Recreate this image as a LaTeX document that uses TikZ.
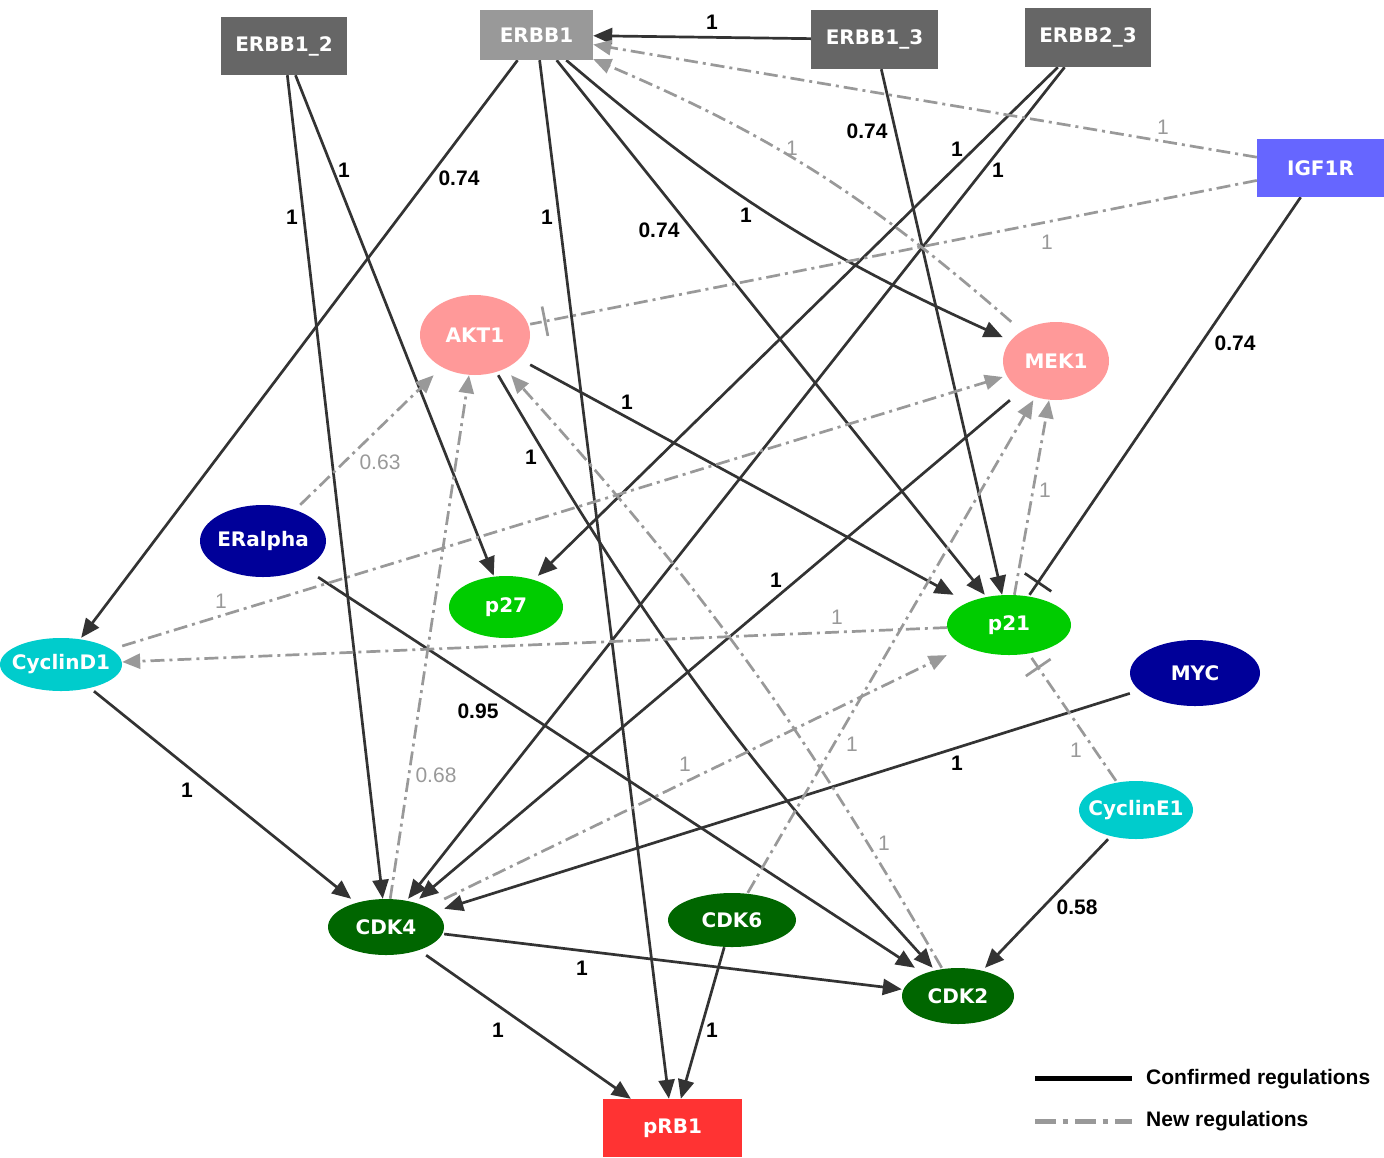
\documentclass[tikz,border=0pt]{standalone}
\usepackage{fontspec}
\setmainfont{Liberation Sans}
\newfontfamily\nodefont{DejaVu Sans}
\usetikzlibrary{arrows.meta, decorations.markings}
\pgfdeclarelayer{background}
\pgfsetlayers{background,main}
\definecolor{edgedark}{HTML}{333333}
\definecolor{edgegray}{HTML}{999999}
\definecolor{boxdark}{HTML}{666666}
\definecolor{boxlight}{HTML}{999999}
\definecolor{igfblue}{HTML}{6666FF}
\definecolor{prbred}{HTML}{FF3333}
\definecolor{aktpink}{HTML}{FF9999}
\definecolor{navyblue}{HTML}{000099}
\definecolor{brightgreen}{HTML}{00CC00}
\definecolor{cyanish}{HTML}{00CCCC}
\definecolor{darkgreen}{HTML}{006600}
\tikzset{
  nodetext/.style={text=white, font=\nodefont\bfseries\fontsize{20}{22}\selectfont},
  boxnode/.style n args={3}{rectangle, inner sep=0pt, minimum width=#1, minimum height=#2, fill=#3, nodetext},
  ellnode/.style n args={3}{rectangle, inner sep=0pt, minimum width=2*#1, minimum height=2*#2, nodetext,
    path picture={\fill[#3] (path picture bounding box.center) ellipse [x radius=#1pt, y radius=#2pt];}},
  conf/.style={draw=edgedark, line width=2.7pt, -{Triangle[length=19pt,width=16pt]}},
  newr/.style={draw=edgegray, line width=2.7pt, dash pattern=on 14pt off 5pt on 3pt off 5pt, -{Triangle[length=18pt,width=15pt]}},
  cinh/.style={draw=edgedark, line width=2.7pt,
    postaction={decorate, decoration={markings, mark=at position -15pt with {\draw[edgedark, solid, line width=2.7pt] (0pt,-16pt) -- (0pt,16pt);}}}},
  ninh/.style={draw=edgegray, line width=2.7pt, dash pattern=on 14pt off 5pt on 3pt off 5pt,
    postaction={decorate, decoration={markings, mark=at position -15pt with {\draw[edgegray, solid, line width=2.7pt] (0pt,-15pt) -- (0pt,15pt);}}}},
  lab/.style={font=\bfseries\fontsize{21}{24}\selectfont, text=black, inner sep=0pt},
  glab/.style={font=\fontsize{21}{24}\selectfont, text=edgegray, inner sep=0pt},
  legtext/.style={font=\bfseries\fontsize{21}{24}\selectfont, text=black, inner sep=0pt, anchor=west}
}
\begin{document}
\begin{tikzpicture}[x=1pt, y=-1pt]
\useasboundingbox (0,0) rectangle (1384,1157);
% nodes
\node[boxnode={126}{58}{boxdark}] (E12) at (284,46) {ERBB1\_2};
\node[boxnode={113}{50}{boxlight}] (E1) at (536.5,35) {ERBB1};
\node[boxnode={127}{59}{boxdark}] (E13) at (874.5,39.5) {ERBB1\_3};
\node[boxnode={126}{59}{boxdark}] (E23) at (1088,37.5) {ERBB2\_3};
\node[boxnode={127}{58}{igfblue}] (IGF) at (1320.5,168) {IGF1R};
\node[boxnode={139}{58}{prbred}] (PRB) at (672.5,1128) {pRB1};
\node[ellnode={55}{40}{aktpink}] (AKT) at (475,335) {AKT1};
\node[ellnode={53}{39}{aktpink}] (MEK) at (1056,361) {MEK1};
\node[ellnode={63}{36}{navyblue}] (ERA) at (263,541) {ERalpha};
\node[ellnode={61}{26.5}{cyanish}] (CD1) at (61,664.5) {CyclinD1};
\node[ellnode={57}{31}{brightgreen}] (P27) at (506,607) {p27};
\node[ellnode={62}{30}{brightgreen}] (P21) at (1009,625) {p21};
\node[ellnode={65}{33}{navyblue}] (MYC) at (1195,673) {MYC};
\node[ellnode={57}{29}{cyanish}] (CE1) at (1136,810) {CyclinE1};
\node[ellnode={56}{28}{darkgreen}] (CDK2) at (958,996) {CDK2};
\node[ellnode={58}{28}{darkgreen}] (CDK4) at (386,927) {CDK4};
\node[ellnode={64}{27}{darkgreen}] (CDK6) at (732,920) {CDK6};
% edges
\begin{pgfonlayer}{background}
% confirmed regulations
\draw[conf] (E13) -- (E1);
\draw[conf] (E12) -- (CDK4);
\draw[conf] (E12) -- (P27);
\draw[conf] (E1) -- (CD1);
\draw[conf] (E1) -- (PRB);
\draw[conf] (E1) -- (P21);
\draw[conf] (E1) to[bend right=8] (MEK);
\draw[conf] (E13) -- (P21);
\draw[conf] (E23) -- (P27);
\draw[conf] (E23) -- (CDK4);
\draw[cinh] (IGF) -- (P21);
\draw[conf] (AKT) -- (P21);
\draw[conf] (AKT) to[bend right=6] (CDK2);
\draw[conf] (MEK) -- (CDK4);
\draw[conf] (ERA) -- (CDK2);
\draw[conf] (CD1) -- (CDK4);
\draw[conf] (MYC) -- (CDK4);
\draw[conf] (CE1) -- (CDK2);
\draw[conf] (CDK4) -- (CDK2);
\draw[conf] (CDK4) -- (PRB);
\draw[conf] (CDK6) -- (PRB);
% new regulations
\draw[newr] (IGF) -- (E1);
\draw[newr] (MEK) to[bend right=9] (E1);
\draw[ninh] (IGF) -- (AKT);
\draw[newr] (ERA) -- (AKT);
\draw[newr] (CDK4) -- (AKT);
\draw[newr] (CDK2) to[bend right=6] (AKT);
\draw[newr] (CD1) -- (MEK);
\draw[newr] (P21) -- (CD1);
\draw[newr] (P21) -- (MEK);
\draw[newr] (CDK6) -- (MEK);
\draw[newr] (CDK4) -- (P21);
\draw[ninh] (CE1) -- (P21);
\end{pgfonlayer}
% edge labels: confirmed
\node[lab] (l01) at (712,22) {1};
\node[lab] (l02) at (292,217) {1};
\node[lab] (l03) at (344,170) {1};
\node[lab] (l04) at (459,178) {0.74};
\node[lab] (l05) at (547,217) {1};
\node[lab] (l06) at (659,230) {0.74};
\node[lab] (l07) at (746,215) {1};
\node[lab] (l08) at (867,131) {0.74};
\node[lab] (l09) at (957,149) {1};
\node[lab] (l10) at (998,170) {1};
\node[lab] (l11) at (1235,343) {0.74};
\node[lab] (l12) at (627,402) {1};
\node[lab] (l13) at (531,457) {1};
\node[lab] (l14) at (776,580) {1};
\node[lab] (l15) at (478,711) {0.95};
\node[lab] (l16) at (187,790) {1};
\node[lab] (l17) at (957,763) {1};
\node[lab] (l18) at (1077,907) {0.58};
\node[lab] (l19) at (582,968) {1};
\node[lab] (l20) at (498,1030) {1};
\node[lab] (l21) at (712,1030) {1};
% edge labels: new
\node[glab] (g01) at (1163,127) {1};
\node[glab] (g02) at (792,148) {1};
\node[glab] (g03) at (1047,242) {1};
\node[glab] (g04) at (380,462) {0.63};
\node[glab] (g05) at (436,775) {0.68};
\node[glab] (g06) at (884,843) {1};
\node[glab] (g07) at (221,601) {1};
\node[glab] (g08) at (837,617) {1};
\node[glab] (g09) at (1045,490) {1};
\node[glab] (g10) at (852,744) {1};
\node[glab] (g11) at (685,764) {1};
\node[glab] (g12) at (1076,750) {1};
% legend
\coordinate (lga) at (1035,1078);
\coordinate (lgb) at (1132,1078);
\coordinate (lgc) at (1035,1121);
\coordinate (lgd) at (1132,1121);
\draw[black, line width=5pt] (lga) -- (lgb);
\draw[edgegray, line width=5pt, dash pattern=on 21pt off 6.5pt on 5pt off 7.5pt] (lgc) -- (lgd);
\node[legtext] (leg1) at (1146,1079) {Confirmed regulations};
\node[legtext] (leg2) at (1146,1121) {New regulations};
\end{tikzpicture}
\end{document}
